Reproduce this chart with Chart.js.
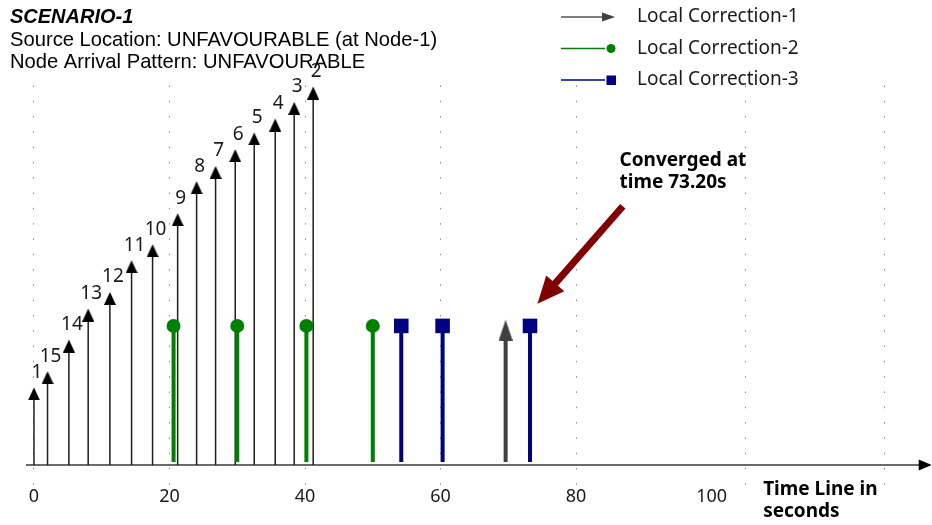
<!DOCTYPE html>
<html>
<head>
<meta charset="utf-8">
<title>Scenario-1 time line</title>
<script src="https://cdn.jsdelivr.net/npm/chart.js@4.4.1/dist/chart.umd.min.js"></script>
<style>
  html, body { margin: 0; padding: 0; background: #fff; }
  #wrap { position: relative; width: 932px; height: 525px; }
</style>
</head>
<body>
<div id="wrap"><canvas id="timeline"></canvas></div>
<script>
// node arrivals (black arrows), label = node number
const nodeLabels = ['1', '15', '14', '13', '12', '11', '10', '9', '8', '7', '6', '5', '4', '3', '2'];
const arrivalTimes = [0, 2.0, 5.15, 8.0, 11.2, 14.4, 17.5, 21.2, 24.0, 26.8, 29.7, 32.5, 35.6, 38.4, 41.2];
const arrivalLevels = [5.58, 6.75, 9.02, 11.25, 12.44, 14.72, 15.87, 18.1, 20.4, 21.5, 22.7, 23.9, 24.9, 26.1, 27.2];

// local corrections
const correction1Times = [69.6];
const correction1Levels = [10.45];
const correction2Times = [20.6, 30.0, 40.2, 50.0];
const correction2Levels = [10, 10, 10, 10];
const correction3Times = [54.2, 60.3, 73.2];
const correction3Levels = [10, 10, 10];

// x axis
const tickValues = [0, 20, 40, 60, 80, 100];
const tickLabels = ['0', '20', '40', '60', '80', '100'];
const extraGridValues = [105, 125.5];

const convergedTime = 73.2;

function points(xs, ys) {
  return xs.map((x, i) => ({ x: x, y: ys[i] }));
}

// arrow head image, tip sits at the centre of the canvas
function arrowHead(w, h, color) {
  const c = document.createElement('canvas');
  c.width = w;
  c.height = h * 2;
  const g = c.getContext('2d');
  g.fillStyle = color;
  g.beginPath();
  g.moveTo(w / 2, h);
  g.lineTo(w, h * 2);
  g.lineTo(0, h * 2);
  g.closePath();
  g.fill();
  return c;
}

const GREEN = '#008000';
const NAVY = '#000080';
const GREY = '#3f3f42';

const stemPlugin = {
  id: 'stems',
  beforeDatasetsDraw(chart) {
    const ctx = chart.ctx;
    const y0 = chart.scales.y.getPixelForValue(0);
    chart.data.datasets.forEach((ds, i) => {
      const meta = chart.getDatasetMeta(i);
      ctx.save();
      ctx.strokeStyle = ds.stemColor;
      ctx.lineWidth = ds.stemWidth;
      meta.data.forEach((pt) => {
        ctx.beginPath();
        ctx.moveTo(pt.x, pt.y + (ds.stemOffset || 0));
        ctx.lineTo(pt.x, y0 - (ds.stemGap || 0));
        ctx.stroke();
      });
      ctx.restore();
    });
  }
};

const labelPlugin = {
  id: 'nodeLabels',
  afterDatasetsDraw(chart) {
    const ctx = chart.ctx;
    const meta = chart.getDatasetMeta(0);
    ctx.save();
    ctx.font = '19px "Noto Sans"';
    ctx.fillStyle = '#1a1a1a';
    ctx.textAlign = 'center';
    ctx.textBaseline = 'middle';
    meta.data.forEach((pt, j) => {
      ctx.fillText(nodeLabels[j], pt.x + 3, pt.y - 15);
    });
    ctx.restore();
  }
};

const extrasPlugin = {
  id: 'extras',
  afterDraw(chart) {
    const ctx = chart.ctx;
    const xs = chart.scales.x;
    const ys = chart.scales.y;
    const area = chart.chartArea;
    const y0 = ys.getPixelForValue(0);

    // arrow head at the end of the time axis
    ctx.save();
    ctx.fillStyle = '#000';
    ctx.beginPath();
    ctx.moveTo(area.right - 3, y0 - 5.5);
    ctx.lineTo(area.right + 10, y0);
    ctx.lineTo(area.right - 3, y0 + 5.5);
    ctx.closePath();
    ctx.fill();

    // axis caption
    ctx.font = 'bold 19px "Noto Sans"';
    ctx.fillStyle = '#000';
    ctx.textAlign = 'left';
    ctx.textBaseline = 'middle';
    const capX = xs.getPixelForValue(107.6);
    ctx.fillText('Time Line in', capX, y0 + 25);
    ctx.fillText('seconds', capX, y0 + 47);

    // converged note and arrow
    const tx = xs.getPixelForValue(86.4);
    const ty = ys.getPixelForValue(21.85);
    ctx.fillText('Converged at', tx, ty);
    ctx.fillText('time ' + convergedTime.toFixed(2) + 's', tx, ty + 21.6);

    const ax1 = xs.getPixelForValue(86.9), ay1 = ys.getPixelForValue(18.6);
    const ax2 = xs.getPixelForValue(convergedTime + 1.1), ay2 = ys.getPixelForValue(11.6);
    const ang = Math.atan2(ay2 - ay1, ax2 - ax1);
    const headLen = 27, headHalf = 12;
    const bx = ax2 - Math.cos(ang) * headLen, by = ay2 - Math.sin(ang) * headLen;
    ctx.strokeStyle = '#800000';
    ctx.fillStyle = '#800000';
    ctx.lineWidth = 7;
    ctx.beginPath();
    ctx.moveTo(ax1, ay1);
    ctx.lineTo(bx + Math.cos(ang) * 2, by + Math.sin(ang) * 2);
    ctx.stroke();
    ctx.beginPath();
    ctx.moveTo(ax2, ay2);
    ctx.lineTo(bx + Math.sin(ang) * headHalf, by - Math.cos(ang) * headHalf);
    ctx.lineTo(bx - Math.sin(ang) * headHalf, by + Math.cos(ang) * headHalf);
    ctx.closePath();
    ctx.fill();
    ctx.restore();

    // legend: line + marker, one row per correction
    const items = chart.data.datasets.filter((ds) => ds.legendIcon);
    const lx0 = 561, lx1 = 611, textX = 637;
    ctx.save();
    ctx.font = '19px "Noto Sans"';
    ctx.textAlign = 'left';
    ctx.textBaseline = 'middle';
    items.forEach((ds, i) => {
      const ly = 17 + i * 31.5;
      ctx.strokeStyle = ds.legendIcon === 'arrow' ? '#555' : ds.stemColor;
      ctx.lineWidth = 1.5;
      ctx.beginPath();
      ctx.moveTo(lx0, ly);
      ctx.lineTo(lx1 - 6, ly);
      ctx.stroke();
      ctx.fillStyle = ds.stemColor;
      if (ds.legendIcon === 'arrow') {
        ctx.beginPath();
        ctx.moveTo(lx1 - 9, ly - 4.5);
        ctx.lineTo(lx1 + 4, ly);
        ctx.lineTo(lx1 - 9, ly + 4.5);
        ctx.closePath();
        ctx.fill();
      } else if (ds.legendIcon === 'circle') {
        ctx.beginPath();
        ctx.arc(lx1, ly, 4.5, 0, Math.PI * 2);
        ctx.fill();
      } else {
        ctx.fillRect(lx1 - 4.5, ly - 4.5, 9.5, 9.5);
      }
      ctx.fillStyle = '#1a1a1a';
      ctx.fillText(ds.label, textX, ly);
    });
    ctx.restore();
  }
};

Chart.defaults.font.family = '"Noto Sans", sans-serif';

const allTicks = tickValues.concat(extraGridValues);

new Chart(document.getElementById('timeline'), {
  type: 'scatter',
  data: {
    datasets: [
      {
        label: 'Node arrivals',
        data: points(arrivalTimes, arrivalLevels),
        pointStyle: arrowHead(12, 13, '#000'),
        pointRadius: 6,
        stemColor: '#1e1e1e',
        stemWidth: 1.5,
        stemOffset: 6,
        stemGap: 0,
        clip: false
      },
      {
        label: 'Local Correction-1',
        data: points(correction1Times, correction1Levels),
        pointStyle: arrowHead(14, 21, GREY),
        pointRadius: 7,
        stemColor: GREY,
        stemWidth: 4,
        stemOffset: 15,
        stemGap: 3,
        legendIcon: 'arrow',
        clip: false
      },
      {
        label: 'Local Correction-2',
        data: points(correction2Times, correction2Levels),
        pointStyle: 'circle',
        pointRadius: 7,
        backgroundColor: GREEN,
        borderWidth: 0,
        stemColor: GREEN,
        stemWidth: 4,
        stemGap: 3,
        legendIcon: 'circle',
        clip: false
      },
      {
        label: 'Local Correction-3',
        data: points(correction3Times, correction3Levels),
        pointStyle: 'rect',
        pointRadius: 10.3,
        backgroundColor: NAVY,
        borderWidth: 0,
        stemColor: NAVY,
        stemWidth: 4,
        stemGap: 3,
        legendIcon: 'rect',
        clip: false
      }
    ]
  },
  options: {
    responsive: true,
    maintainAspectRatio: false,
    animation: false,
    layout: { padding: { top: 0, left: 10, right: 7, bottom: 35 } },
    plugins: {
      legend: { display: false },
      tooltip: { enabled: false },
      title: {
        display: true,
        text: 'SCENARIO-1',
        align: 'start',
        color: '#000',
        font: { family: '"Liberation Sans", Arial, sans-serif', size: 20, style: 'italic', weight: 'bold', lineHeight: 1.1 },
        padding: { top: 6, bottom: 0 }
      },
      subtitle: {
        display: true,
        text: ['Source Location: UNFAVOURABLE (at Node-1)', 'Node Arrival Pattern: UNFAVOURABLE'],
        align: 'start',
        color: '#000',
        font: { family: '"Liberation Sans", Arial, sans-serif', size: 20.2, lineHeight: 1.1 },
        padding: { top: 1, bottom: 12 }
      }
    },
    scales: {
      x: {
        type: 'linear',
        min: -1.03,
        max: 131,
        position: { y: 0 },
        afterBuildTicks: (scale) => {
          scale.ticks = allTicks.map((v) => ({ value: v }));
        },
        ticks: {
          autoSkip: false,
          maxRotation: 0,
          padding: 21,
          color: '#1a1a1a',
          font: { size: 18 },
          callback: (value) => {
            const k = tickValues.indexOf(value);
            return k >= 0 ? tickLabels[k] : '';
          }
        },
        grid: {
          drawTicks: false,
          lineWidth: 1,
          color: (c) => (c.tick && c.tick.value === 100 ? 'rgba(0,0,0,0)' : '#8a8a8a')
        },
        border: { display: true, color: '#6b6b6b', width: 2, dash: [1.5, 13.8] }
      },
      y: {
        type: 'linear',
        min: -1.79,
        max: 27.28,
        position: 'left',
        afterFit: (scale) => { scale.width = 17; },
        ticks: { display: false },
        grid: { display: false },
        border: { display: false }
      }
    }
  },
  plugins: [stemPlugin, labelPlugin, extrasPlugin]
});
</script>
</body>
</html>
